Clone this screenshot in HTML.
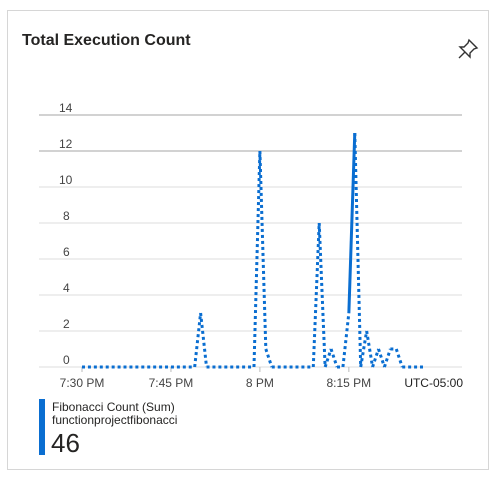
<!DOCTYPE html>
<html><head><meta charset="utf-8"><style>
body{margin:0;width:502px;height:480px;background:#fff;font-family:"Liberation Sans",sans-serif;}
.card{position:absolute;left:7px;top:10px;width:482px;height:460px;border:1px solid #d6d6d6;box-sizing:border-box;}
</style></head><body>
<div class="card"></div>
<div style="position:absolute;left:22px;top:32px;font-size:16px;font-weight:bold;color:#252423;">Total Execution Count</div>
<svg style="position:absolute;left:457px;top:38px" width="22" height="22" viewBox="0 0 22 22"><path d="M12 2 L20 10 L17 11 L13 15 L13 19 L3 9 L7 9 L11 5 Z M8 14 L2 20" fill="none" stroke="#333" stroke-width="1.4"/></svg>
<svg id="chart" width="502" height="400" style="position:absolute;left:0;top:0" font-family="Liberation Sans, sans-serif"></svg>
<div style="position:absolute;left:39px;top:399px;width:6px;height:56px;background:#0a6ed1;"></div>
<div style="position:absolute;left:52px;top:400px;font-size:12px;color:#252423;">Fibonacci Count (Sum)</div>
<div style="position:absolute;left:52px;top:413px;font-size:12px;color:#252423;">functionprojectfibonacci</div>
<div style="position:absolute;left:51px;top:428px;font-size:26px;color:#252423;">46</div>
<script>
const values=[0,0,0,0,0,0,0,0,0,0,0,0,0,0,0,0,0,0,0,0,3,0,0,0,0,0,0,0,0,0,12,1,0,0,0,0,0,0,0,0,8,0,1,0,0,3,13,0,2,0,1,0,1,1,0,0,0,0,0];
const solidSegments=[45];
const yTicks=[0,2,4,6,8,10,12,14];
const xTickMinutes=[0,15,30,45];
const xTickLabels=["7:30 PM","7:45 PM","8 PM","8:15 PM"];
const svg=document.getElementById('chart');
const NS='http://www.w3.org/2000/svg';
const x=m=>82+m*5.93;
const y=v=>367-v*18;
yTicks.forEach(t=>{
  const l=document.createElementNS(NS,'line');
  
  
  l.setAttribute('x1',39);l.setAttribute('x2',462);l.setAttribute('y1',y(t));l.setAttribute('y2',y(t));
  l.setAttribute('stroke',(t===12||t===14)?'#c4c4c4':'#dcdcdc');l.setAttribute('stroke-width',(t===12||t===14)?1.5:1);
  svg.appendChild(l);
  const tx=document.createElementNS(NS,'text');
  
  
  tx.setAttribute('x',t>=10?59:63);tx.setAttribute('y',y(t)-3);tx.setAttribute('font-size',12);tx.setAttribute('fill','#444');
  tx.setAttribute('text-anchor','start');
  tx.textContent=t;svg.appendChild(tx);
});
xTickMinutes.forEach((m,i)=>{
  const l=document.createElementNS(NS,'line');
  
  
  l.setAttribute('x1',x(m));l.setAttribute('x2',x(m));l.setAttribute('y1',367);l.setAttribute('y2',372);l.setAttribute('stroke','#bbb');
  svg.appendChild(l);
  const tx=document.createElementNS(NS,'text');
  
  
  tx.setAttribute('x',x(m));tx.setAttribute('y',387);tx.setAttribute('font-size',12);tx.setAttribute('fill','#444');tx.setAttribute('text-anchor','middle');
  tx.textContent=xTickLabels[i];svg.appendChild(tx);
});
const tz=document.createElementNS(NS,'text');


tz.setAttribute('x',463);tz.setAttribute('y',387);tz.setAttribute('font-size',12);tz.setAttribute('fill','#222');tz.setAttribute('text-anchor','end');
tz.textContent='UTC-05:00';svg.appendChild(tz);
for(let i=0;i<values.length-1;i++){
  const l=document.createElementNS(NS,'line');
  
  
  l.setAttribute('x1',x(i));l.setAttribute('y1',y(values[i]));l.setAttribute('x2',x(i+1));l.setAttribute('y2',y(values[i+1]));
  l.setAttribute('stroke','#0a6ed1');l.setAttribute('stroke-width',3);
  if(!solidSegments.includes(i))l.setAttribute('stroke-dasharray','3 3');
  svg.appendChild(l);
}
</script>
</body></html>
